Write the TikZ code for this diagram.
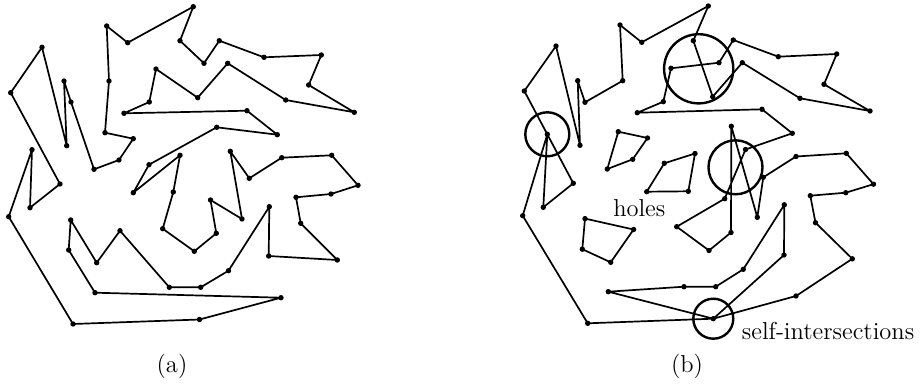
\documentclass[tikz,border=0pt]{standalone}
\usepackage{amsmath,amssymb}

\begin{document}
\begin{tikzpicture}[x=.5pt,y=-.5pt,
    edge/.style={line width=.85pt, line join=round},
    vtx/.style={fill=black},
    ring/.style={line width=1.2pt},
    lbl/.style={font=\fontsize{12.25}{14}\selectfont, inner sep=0pt}]
  \useasboundingbox (0,0) rectangle (921,385);
  % (a) simple polygon
  \foreach \n/\x/\y in {1/73/324, 2/199.5/319.5, 3/281/297.7, 4/95/292.7, 5/68.7/250,
      6/70.7/220, 7/96.7/262.7, 8/120/230.7, 9/169.3/287.3, 10/200.7/287.3,
      11/228.5/270.7, 12/269.3/206.7, 13/268.7/256, 14/337.3/260, 15/300.7/223.3,
      16/296/197.3, 17/331/194, 18/358/185.3, 19/331.7/155.3, 20/281.7/157.7,
      21/249.3/178.3, 22/230.3/151.3, 23/242/219, 24/210.5/200, 25/216.3/233.3,
      26/194.3/251.3, 27/162.7/228.7, 28/173.3/192, 29/180/155.3, 30/133.3/192.7,
      31/149/164.7, 32/216.7/127.3, 33/277.3/134.7, 34/247/110.7, 35/124/113.3,
      36/149.3/102, 37/156/69, 38/197.7/97.7, 39/227.7/63.3, 40/285.7/100,
      41/354.3/112.3, 42/308.7/85, 43/321.3/55, 44/264/57.3, 45/219.3/40.7,
      46/204/63.3, 47/180/40.7, 48/193.3/6.7, 49/127.7/42.7, 50/106.7/26,
      51/109/81, 52/105/132.7, 53/133.3/138.7, 54/119/160, 55/94/169.3,
      56/71/102, 57/64/81, 58/66.7/145.7, 59/42/47.3, 60/10.7/92.7,
      61/60/184, 62/30/207.7, 63/32/149.7, 64/8.7/216.7}
    \coordinate (a\n) at (\x,\y);
  \draw[edge] (a1) \foreach \n in {2,...,64} {-- (a\n)} -- cycle;
  \foreach \n in {1,...,64} \fill[vtx] (a\n) circle (1.35pt);

  % (b) polygon with holes and self-intersections
  \foreach \n/\x/\y in {1/524.3/91, 2/556/46, 3/580/145.3, 4/577.7/80.7, 5/585/102.3,
      6/622.7/80.7, 7/620/25, 8/641.7/42.3, 9/708.3/6, 10/693.3/40.7,
      11/712.7/96.7, 12/742.3/62.7, 13/800/98.3, 14/870/111, 15/824/84.3,
      16/836.7/54, 17/778.3/56.7, 18/733.3/40, 19/719/62.7, 20/671/68.3,
      21/663.3/101.7, 22/637.3/112.7, 23/762/109.3, 24/792.3/133.3, 25/745.5/149.5,
      26/724.7/198.7, 27/676.7/226.7, 28/709/250.5, 29/731/232.5, 30/731.3/126.3,
      31/757.3/217.3, 32/763.3/177.3, 33/796/156.5, 34/846.3/153.3, 35/873.5/184.2,
      36/845.7/192.7, 37/810.3/195.7, 38/815.5/222.7, 39/852.3/258.8, 40/796/296,
      41/713.3/318.7, 42/784/255, 43/784.3/204.8, 44/743.3/269.3, 45/715.7/286.7,
      46/684/286.7, 47/608.3/291.7, 48/587.7/323.3, 49/522.7/215.7, 50/547.3/134.3,
      51/573.3/183.3, 52/543.3/207.3}
    \coordinate (b\n) at (\x,\y);
  \foreach \n/\x/\y in {1/618.3/131.7, 2/647.5/138, 3/632.7/159.3, 4/607.3/169,
      5/664.3/163.3, 6/695/153.5, 7/688.3/191.3, 8/646.7/191.7,
      9/585/218.6, 10/633.6/229.5, 11/610.7/262.3, 12/582.3/249.2}
    \coordinate (h\n) at (\x,\y);
  \coordinate (x2) at (698.7,68.8);
  \coordinate (x3) at (735.5,167.3);

  \draw[edge] (b1) \foreach \n in {2,...,47} {-- (b\n)} -- (b41) -- (b48) -- (b49)
    -- (b50) -- (b51) -- (b52) -- (b50) -- cycle;
  \draw[edge] (h1) -- (h2) -- (h3) -- (h4) -- cycle;
  \draw[edge] (h5) -- (h6) -- (h7) -- (h8) -- cycle;
  \draw[edge] (h9) -- (h10) -- (h11) -- (h12) -- cycle;
  \foreach \n in {1,...,52} \fill[vtx] (b\n) circle (1.35pt);
  \foreach \n in {1,...,12} \fill[vtx] (h\n) circle (1.35pt);

  \draw[ring] (b50) circle (11pt);
  \draw[ring] (x2) circle (17.3pt);
  \draw[ring] (x3) circle (13.5pt);
  \draw[ring] (b41) circle (10pt);

  \node[lbl, anchor=base] (holes) at (639.3,216) {holes};
  \node[lbl, anchor=base west] (selfint) at (741.5,339) {self-intersections};
  \node[lbl, anchor=base] (capa) at (172,372) {(a)};
  \node[lbl, anchor=base] (capb) at (687,372) {(b)};
\end{tikzpicture}
\end{document}
